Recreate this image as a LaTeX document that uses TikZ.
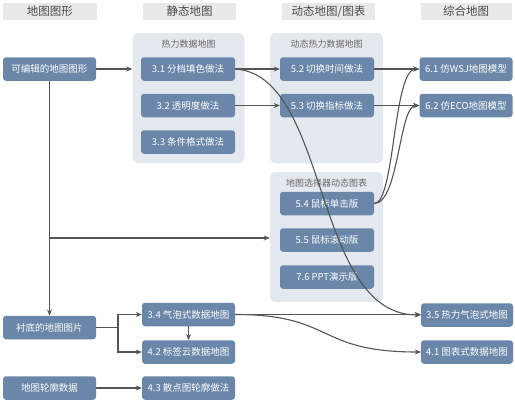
\documentclass[tikz,border=0pt]{standalone}
\usepackage{fontspec}
\setmainfont{Noto Sans CJK SC}
\usetikzlibrary{arrows.meta}
\definecolor{nodeblue}{HTML}{6A86A8}
\definecolor{grpbg}{HTML}{E4E9F0}
\definecolor{hdrgray}{HTML}{E9E9E9}
\definecolor{hdrtext}{HTML}{4A4A4A}
\definecolor{titletext}{HTML}{666666}
\definecolor{linegray}{HTML}{555555}
\begin{document}
\begin{tikzpicture}[x=1pt,y=-1pt,
  box/.style={fill=nodeblue, rounded corners=3pt, text=white, font=\fontsize{9.5}{11}\selectfont, minimum width=93pt, minimum height=23.5pt, inner sep=0pt},
  hdr/.style={fill=hdrgray, text=hdrtext, font=\fontsize{11.5}{13}\selectfont, minimum width=93pt, minimum height=17pt, inner sep=0pt},
  grp/.style={fill=grpbg, rounded corners=6pt, minimum width=112pt, minimum height=130pt, inner sep=0pt},
  grptitle/.style={text=titletext, font=\fontsize{9}{11}\selectfont, inner sep=0pt},
  arr/.style={draw=linegray, line width=1.1pt, -{Stealth[length=6pt,width=5pt]}}
]
\useasboundingbox (0,0) rectangle (515,402);
\fill[white] (0,0) rectangle (515,402);
% headers
\node[hdr, minimum width=94pt] (h1) at (50,11.5) {地图图形};
\node[hdr] (h2) at (189.5,11.5) {静态地图};
\node[hdr] (h3) at (328.5,11.5) {动态地图/图表};
\node[hdr, minimum width=91pt] (h4) at (466,11.5) {综合地图};
% groups
\node[grp] (g1) at (188.5,98) {};
\node[grptitle] (g1t) at (188.5,44) {热力数据地图};
\node[grp, minimum width=113pt] (g2) at (326.5,98) {};
\node[grptitle] (g2t) at (326.5,44) {动态热力数据地图};
\node[grp, minimum width=113pt] (g3) at (326.5,237) {};
\node[grptitle] (g3t) at (326.5,183) {地图选择器动态图表};
% nodes
\node[box] (a) at (49.5,69) {可编辑的地图图形};
\node[box, minimum width=94pt] (n31) at (188,69) {3.1 分档填色做法};
\node[box, minimum width=94pt] (n32) at (188,105.5) {3.2 透明度做法};
\node[box, minimum width=94pt] (n33) at (188,142) {3.3 条件格式做法};
\node[box, minimum width=94pt] (n52) at (327,69) {5.2 切换时间做法};
\node[box, minimum width=94pt] (n53) at (327,105.5) {5.3 切换指标做法};
\node[box, minimum width=94pt] (n54) at (327,203.5) {5.4 鼠标单击版};
\node[box, minimum width=94pt] (n55) at (327,240) {5.5 鼠标滚动版};
\node[box, minimum width=94pt] (n76) at (327,277) {7.6 PPT演示版};
\node[box] (n61) at (466,69) {6.1 仿WSJ地图模型};
\node[box] (n62) at (466,105.5) {6.2 仿ECO地图模型};
\node[box, minimum width=92pt] (n35) at (467,315) {3.5 热力气泡式地图};
\node[box, minimum width=92pt] (n41) at (467,352) {4.1 图表式数据地图};
\node[box] (b) at (49.5,327.5) {衬底的地图图片};
\node[box] (n34) at (188.5,314.5) {3.4 气泡式数据地图};
\node[box] (n42) at (188.5,352) {4.2 标签云数据地图};
\node[box] (c) at (49.5,388) {地图轮廓数据};
\node[box] (n43) at (188.5,388) {4.3 散点图轮廓做法};
% connectors
\coordinate (br) at (49.5,238);
\coordinate (fork) at (118,327.5);
\draw[arr] (a.east) -- (a.east -| g1.west);
\draw[arr] (a.south) -- (b.north);
\draw[arr] (br) -- (br -| g3.west);
\draw[arr] (n31) -- (n52);
\draw[arr] (n32) -- (n53);
\draw[arr] (n52) -- (n61);
\draw[arr] (n53) -- (n62);
\draw[arr] (n54.east) .. controls (395,203.5) and (393,69) .. (n61.west);
\draw[arr] (n54.east) .. controls (399,203.5) and (399,105.5) .. (n62.west);
\draw[arr] (n31.east) .. controls (330,75) and (312,315) .. (n35.west);
\draw[linegray, line width=1.1pt] (b.east) -- (fork);
\draw[arr] (fork) |- (n34.west);
\draw[arr] (fork) |- (n42.west);
\draw[arr] (n34.south) -- (n42.north);
\draw[arr] (n34.east) -- (n34.east -| n35.west);
\draw[arr] (n34.east) .. controls (335,314.5) and (315,352) .. (n41.west);
\draw[arr] (c) -- (n43);
\end{tikzpicture}
\end{document}
